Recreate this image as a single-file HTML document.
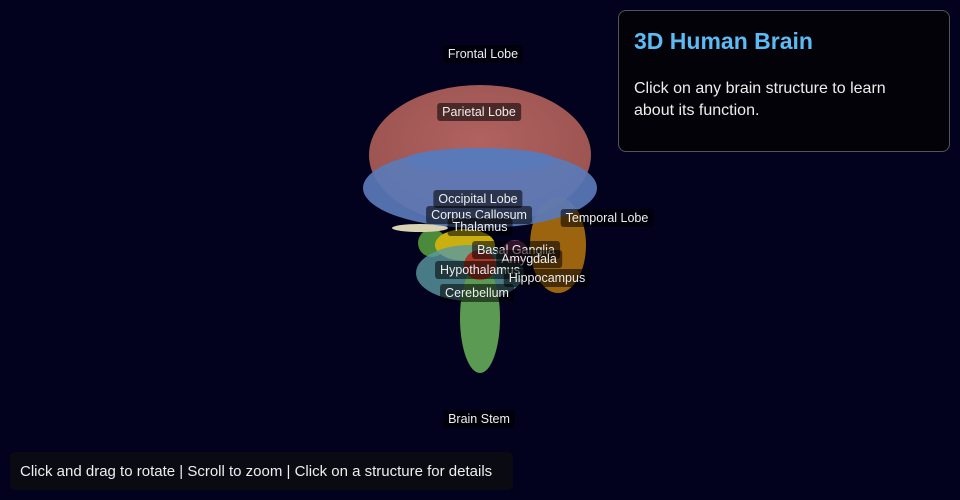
<!DOCTYPE html>
<html><head><meta charset="utf-8"><style>
body{margin:0;width:960px;height:500px;background:#02021e;overflow:hidden;font-family:"Liberation Sans",sans-serif;position:relative}
.l{position:absolute;background:rgba(0,0,0,0.55);color:#eee;font-size:12.5px;padding:2px 5px;border-radius:3px;white-space:nowrap;transform:translateX(-50%)}
#panel{position:absolute;left:618px;top:10px;width:332px;height:142px;box-sizing:border-box;background:#020208;border:1px solid #555;border-radius:8px;padding:17px 15px}
#panel h1{margin:0 0 23px;color:#5bbcf5;font-size:23px;font-weight:bold}
#panel p{margin:0;color:#eee;font-size:16px;line-height:22px;width:275px}
#foot{position:absolute;left:10px;top:452px;height:38px;width:503px;background:#0a0a12;border-radius:5px;color:#eee;font-size:15px;line-height:39px;padding-left:10px;box-sizing:border-box}
</style></head><body>
<svg width="960" height="500" style="position:absolute;left:0;top:0">
<defs>
<radialGradient id="r" cx="50%" cy="40%" r="60%"><stop offset="0" stop-color="#b0625f"/><stop offset="1" stop-color="#9a5350"/></radialGradient>
</defs>
<ellipse cx="480" cy="155" rx="111" ry="70" fill="url(#r)"/>
<ellipse cx="558" cy="245" rx="28" ry="48" fill="#c47d0c" opacity="0.8"/>
<ellipse cx="432" cy="243" rx="14" ry="14" fill="#4a8a3a"/>
<ellipse cx="465" cy="245" rx="30" ry="16" fill="#c9b010"/>
<ellipse cx="420" cy="228" rx="28" ry="4" fill="#d8d2b0"/>
<ellipse cx="470" cy="273" rx="54" ry="28" fill="#5a9aa0" opacity="0.8"/>
<ellipse cx="480" cy="318" rx="20" ry="55" fill="#5a9a52"/>
<ellipse cx="480" cy="265" rx="16" ry="15" fill="#a83a28"/>
<ellipse cx="515" cy="252" rx="13" ry="12" fill="#8a3a6a" opacity="0.8"/>
<ellipse cx="480" cy="188" rx="117" ry="40" fill="#5a7ab8" opacity="0.92"/>
<ellipse cx="480" cy="160" rx="75" ry="12" fill="#5a7ab8" opacity="0.92"/>
</svg>
<div class="l" style="left:483px;top:45px">Frontal Lobe</div>
<div class="l" style="left:479px;top:103px">Parietal Lobe</div>
<div class="l" style="left:478px;top:190px">Occipital Lobe</div>
<div class="l" style="left:479px;top:206px">Corpus Callosum</div>
<div class="l" style="left:480px;top:218px">Thalamus</div>
<div class="l" style="left:607px;top:209px">Temporal Lobe</div>
<div class="l" style="left:516px;top:241px">Basal Ganglia</div>
<div class="l" style="left:529px;top:250px">Amygdala</div>
<div class="l" style="left:480px;top:261px">Hypothalamus</div>
<div class="l" style="left:547px;top:269px">Hippocampus</div>
<div class="l" style="left:477px;top:284px">Cerebellum</div>
<div class="l" style="left:479px;top:410px">Brain Stem</div>
<div id="panel"><h1>3D Human Brain</h1><p>Click on any brain structure to learn about its function.</p></div>
<div id="foot">Click and drag to rotate | Scroll to zoom | Click on a structure for details</div>
</body></html>
